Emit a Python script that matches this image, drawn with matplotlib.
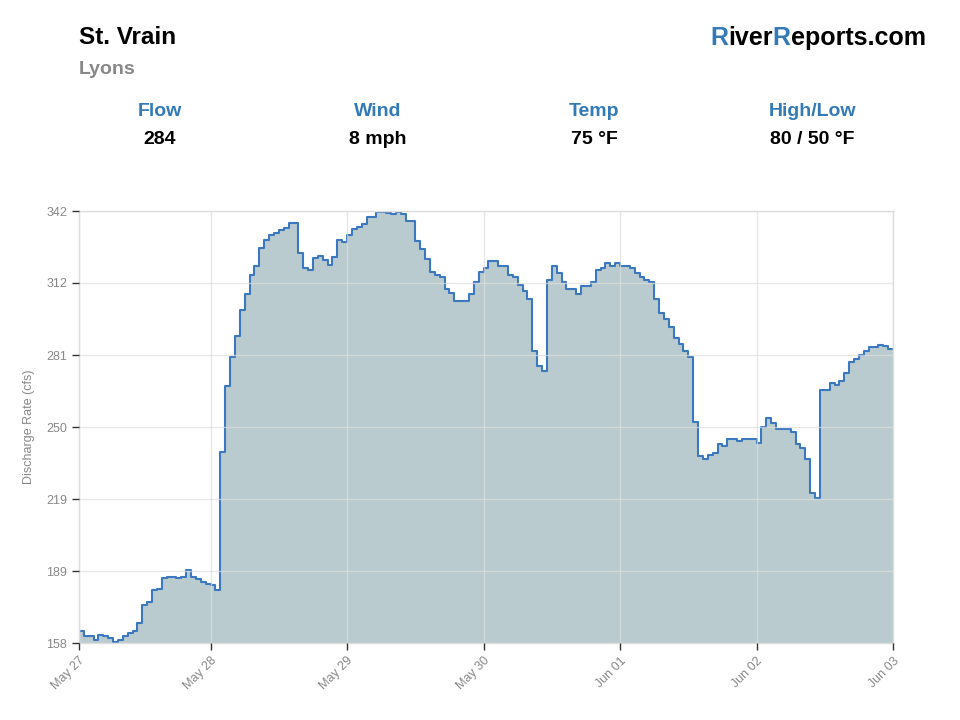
import numpy as np
import matplotlib
matplotlib.use('Agg')
import matplotlib.pyplot as plt

plt.rcParams['font.family'] = ['Liberation Sans', 'DejaVu Sans']

# Hourly discharge readings (cfs)
flow = [
    163.1, 161.0, 161.0, 159.3, 161.6, 160.9, 160.1, 158.3, 159.3, 160.9,
    162.3, 163.1, 166.5, 174.1, 175.6, 180.4, 181.1, 185.6, 186.1, 186.1,
    185.5, 186.2, 189.0, 186.1, 185.4, 184.0, 183.0, 182.5, 180.4, 239.2,
    267.5, 279.7, 288.9, 299.8, 306.8, 314.7, 318.7, 326.1, 329.8, 331.6,
    332.5, 333.8, 334.8, 336.8, 336.8, 324.0, 317.9, 316.9, 321.9, 322.8,
    321.0, 318.9, 322.3, 329.8, 328.7, 331.7, 334.3, 335.3, 336.5, 339.6,
    339.6, 341.5, 341.5, 341.1, 340.7, 341.4, 340.7, 337.9, 337.9, 329.1,
    325.8, 321.6, 315.9, 314.9, 313.8, 308.8, 306.9, 303.8, 303.8, 303.8,
    306.6, 311.9, 316.2, 317.6, 320.7, 320.7, 318.7, 318.7, 314.7, 313.8,
    310.5, 308.1, 304.5, 282.5, 276.1, 273.8, 312.6, 318.7, 315.7, 311.9,
    308.8, 308.8, 306.6, 309.9, 309.9, 311.9, 316.9, 317.6, 319.7, 318.7,
    319.7, 318.7, 318.7, 317.6, 315.7, 313.8, 312.6, 311.6, 304.5, 298.7,
    296.0, 292.7, 288.0, 285.2, 282.5, 279.9, 252.0, 237.8, 236.2, 238.1,
    238.8, 242.8, 242.1, 244.8, 244.8, 244.2, 244.9, 244.9, 244.9, 243.0,
    250.1, 253.7, 251.8, 249.0, 249.0, 249.0, 248.0, 242.8, 240.9, 236.4,
    221.8, 219.6, 265.8, 265.8, 268.6, 267.9, 269.7, 272.9, 277.8, 278.8,
    280.7, 282.5, 284.2, 284.2, 284.9, 284.5, 283.2,
]

y_min = 158
y_max = 342
y_labels = ['158', '189', '219', '250', '281', '312', '342']
x_ticks = [0, 27, 55, 83, 111, 139, 167]
x_labels = ['May 27', 'May 28', 'May 29', 'May 30', 'Jun 01', 'Jun 02', 'Jun 03']

stats_names = ['Flow', 'Wind', 'Temp', 'High/Low']
stats_values = ['284', '8 mph', '75 °F', '80 / 50 °F']
stats_x = [160, 378, 594, 812]

BLUE = '#337ab7'
GRAY = '#888888'

fig = plt.figure(figsize=(9.6, 7.2), dpi=100)
ax = fig.add_axes([79 / 960, 1 - 643 / 720, 814 / 960, 432 / 720])

# Step area chart
x = np.arange(len(flow) + 1)
y = np.array(flow + [flow[-1]])
ax.fill_between(x, y, y_min, step='post', color='#b9cbce', linewidth=0)
ax.step(x, y, where='post', color='#3b78c0', linewidth=1.5)

ax.set_xlim(0, len(flow))
ax.set_ylim(y_min, y_max)
ax.set_yticks(np.linspace(y_min, y_max, 7))
ax.set_yticklabels(y_labels)
ax.set_xticks(x_ticks)
ax.set_xticklabels(x_labels, rotation=45, ha='right', rotation_mode='anchor')

ax.grid(True, color='#dddddd', linewidth=1, alpha=0.7)
ax.set_axisbelow(False)
for side in ax.spines.values():
    side.set_color('#dddddd')
    side.set_linewidth(1)
ax.tick_params(axis='both', colors='#333333', labelcolor=GRAY, labelsize=9,
               length=5, width=1)
ax.set_ylabel('Discharge Rate (cfs)', color=GRAY, fontsize=9, labelpad=8)

# Header
fig.text(79 / 960, 1 - 38 / 720, 'St. Vrain', fontsize=17.5, fontweight='bold',
         color='black', va='center')
fig.text(79 / 960, 1 - 70 / 720, 'Lyons', fontsize=14, fontweight='bold',
         color=GRAY, va='center')

# Site name, the two R's in blue, each piece placed right after the previous one
parts = [('R', BLUE), ('iver', 'black'), ('R', BLUE), ('eports.com', 'black')]
prev = fig.text(710 / 960, 1 - 45 / 720, parts[0][0], fontsize=18,
                fontweight='bold', color=parts[0][1], va='baseline')
for txt, col in parts[1:]:
    prev = plt.annotate(txt, xy=(1, 0), xycoords=prev, va='bottom', ha='left',
                        fontsize=18, fontweight='bold', color=col,
                        annotation_clip=False)

# Current conditions row
for name, val, sx in zip(stats_names, stats_values, stats_x):
    fig.text(sx / 960, 1 - 111 / 720, name, fontsize=14, fontweight='bold',
             color=BLUE, ha='center', va='center')
    fig.text(sx / 960, 1 - 139 / 720, val, fontsize=14, fontweight='bold',
             color='black', ha='center', va='center')

fig.savefig('out.png', dpi=100)
